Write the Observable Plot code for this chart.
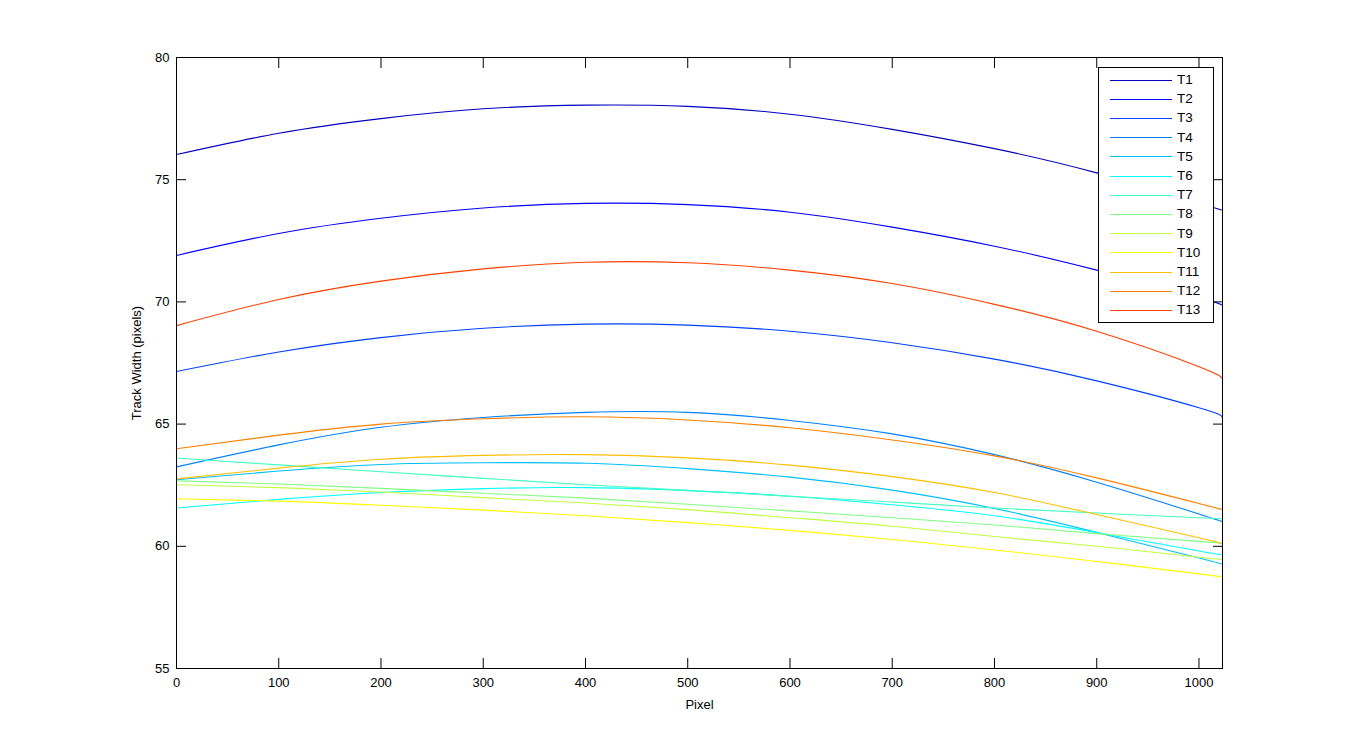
<!DOCTYPE html>
<html>
<head>
<meta charset="utf-8">
<script src="https://cdn.jsdelivr.net/npm/d3@7"></script>
<script src="https://cdn.jsdelivr.net/npm/@observablehq/plot@0.6"></script>
<style>
  html, body { margin: 0; padding: 0; background: #fff; }
  #wrap { position: relative; width: 1350px; height: 750px; font-family: "Liberation Sans", Arial, sans-serif; }
  #legend { position: absolute; left: 1098px; top: 67px; width: 116px; height: 256px; border: 1px solid #000; background: #fff; box-sizing: border-box; }
  .lg-line { position: absolute; left: 11px; width: 62px; height: 0; border-top: 1px solid; }
  .lg-text { position: absolute; left: 78px; font-size: 13.5px; line-height: 15px; color: #000; }
</style>
</head>
<body>
<div id="wrap"><div id="chart"></div><div id="legend"></div></div>
<script>
// Pixel positions along the track (x axis)
const pixelX = [0, 100, 200, 300, 400, 500, 600, 700, 800, 900, 1000, 1023];

// Track widths (pixels), one array per track
const T1  = [76.03, 76.90, 77.50, 77.90, 78.05, 78.00, 77.68, 77.06, 76.27, 75.28, 74.05, 73.75];
const T2  = [71.90, 72.80, 73.42, 73.84, 74.03, 73.98, 73.67, 73.06, 72.28, 71.30, 70.18, 69.86];
const T3  = [67.15, 67.95, 68.54, 68.92, 69.09, 69.05, 68.80, 68.33, 67.66, 66.77, 65.67, 65.28];
const T4  = [63.25, 64.15, 64.87, 65.27, 65.48, 65.48, 65.15, 64.60, 63.75, 62.62, 61.32, 61.00];
const T5  = [62.72, 63.08, 63.35, 63.42, 63.40, 63.18, 62.83, 62.30, 61.55, 60.57, 59.52, 59.26];
const T6  = [61.57, 61.92, 62.20, 62.36, 62.40, 62.28, 62.05, 61.70, 61.25, 60.56, 59.81, 59.65];
const T7  = [63.61, 63.33, 63.05, 62.78, 62.52, 62.29, 62.05, 61.81, 61.57, 61.36, 61.17, 61.13];
const T8  = [62.68, 62.55, 62.37, 62.17, 61.97, 61.72, 61.45, 61.17, 60.87, 60.52, 60.20, 60.12];
const T9  = [62.52, 62.40, 62.22, 61.99, 61.77, 61.50, 61.17, 60.82, 60.40, 60.00, 59.55, 59.45];
const T10 = [61.94, 61.85, 61.68, 61.48, 61.25, 60.97, 60.65, 60.28, 59.85, 59.38, 58.87, 58.75];
const T11 = [62.76, 63.20, 63.56, 63.72, 63.75, 63.62, 63.32, 62.85, 62.20, 61.30, 60.35, 60.10];
const T12 = [63.99, 64.55, 65.00, 65.22, 65.30, 65.17, 64.85, 64.35, 63.70, 62.80, 61.75, 61.50];
const T13 = [69.03, 70.10, 70.85, 71.35, 71.62, 71.60, 71.30, 70.75, 69.90, 68.80, 67.35, 66.85];

const trackNames = ["T1","T2","T3","T4","T5","T6","T7","T8","T9","T10","T11","T12","T13"];
const trackColors = ["#0000bf","#0000ff","#0040ff","#0080ff","#00bfff","#00ffff","#40ffbf","#80ff80","#bfff40","#ffff00","#ffbf00","#ff8000","#ff4000"];
const xTicks = [0, 100, 200, 300, 400, 500, 600, 700, 800, 900, 1000];
const yTicks = [55, 60, 65, 70, 75, 80];

const series = [T1, T2, T3, T4, T5, T6, T7, T8, T9, T10, T11, T12, T13];
const rows = series.flatMap((vals, i) => vals.map((w, j) => ({track: trackNames[i], px: pixelX[j], w})));

const plain = d => String(d);

const chart = Plot.plot({
  width: 1350,
  height: 750,
  marginLeft: 176,
  marginRight: 128,
  marginTop: 57,
  marginBottom: 82,
  style: {fontFamily: "Liberation Sans, Arial, sans-serif", fontSize: "13px", background: "#fff", color: "#000", overflow: "visible"},
  x: {domain: [0, 1023]},
  y: {domain: [55, 80]},
  color: {domain: trackNames, range: trackColors},
  marks: [
    Plot.line(rows, {x: "px", y: "w", z: "track", stroke: "track", strokeWidth: 1.1, curve: "natural"}),
    Plot.frame({stroke: "#000", strokeWidth: 1}),
    Plot.axisX({anchor: "bottom", ticks: xTicks, tickFormat: plain, tickSize: 0, tickPadding: 9, label: "Pixel", labelAnchor: "center", labelArrow: "none", labelOffset: 40}),
    Plot.axisX({anchor: "bottom", ticks: xTicks, tickSize: 10, dy: -10, tickFormat: () => "", label: null}),
    Plot.axisX({anchor: "top", ticks: xTicks, tickSize: 10, dy: 10, tickFormat: () => "", label: null}),
    Plot.axisY({anchor: "left", ticks: yTicks, tickFormat: plain, tickSize: 0, tickPadding: 7, label: "Track Width (pixels)", labelAnchor: "center", labelArrow: "none", labelOffset: 45}),
    Plot.axisY({anchor: "left", ticks: yTicks, tickSize: 10, dx: 10, tickFormat: () => "", label: null}),
    Plot.axisY({anchor: "right", ticks: yTicks, tickSize: 10, dx: -10, tickFormat: () => "", label: null})
  ]
});
document.getElementById("chart").appendChild(chart);

// Legend (inside the axes, top right, MATLAB style)
const legend = document.getElementById("legend");
trackNames.forEach((name, i) => {
  const cy = 11.5 + i * 19.2;
  const ln = document.createElement("div");
  ln.className = "lg-line";
  ln.style.top = cy + "px";
  ln.style.borderTopColor = trackColors[i];
  legend.appendChild(ln);
  const tx = document.createElement("div");
  tx.className = "lg-text";
  tx.style.top = (cy - 7.5) + "px";
  tx.textContent = name;
  legend.appendChild(tx);
});
</script>
</body>
</html>
